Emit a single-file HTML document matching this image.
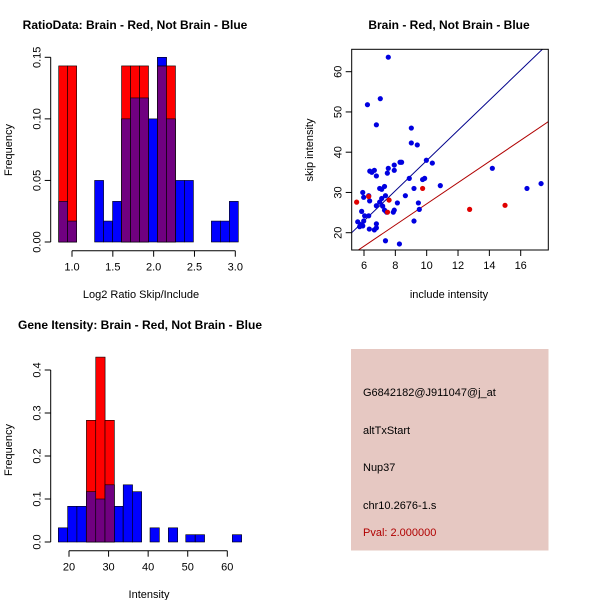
<!DOCTYPE html>
<html><head><meta charset="utf-8"><style>
body{margin:0;background:#fff}
svg{display:block;font-family:"Liberation Sans",sans-serif}
</style></head><body>
<svg id="s" width="600" height="600" xmlns="http://www.w3.org/2000/svg">
<rect width="600" height="600" fill="#fff"/>
<g id="p1"></g>
<g id="p2"></g>
<g id="p3"></g>
<g>
<rect x="351" y="349" width="197.5" height="201.5" fill="#e6c8c2"/>
<text x="363" y="396" font-size="11" fill="#000">G6842182@J911047@j_at</text>
<text x="363" y="434" font-size="11" fill="#000">altTxStart</text>
<text x="363" y="471" font-size="11" fill="#000">Nup37</text>
<text x="363" y="509" font-size="11" fill="#000">chr10.2676-1.s</text>
<text x="363" y="536" font-size="11" fill="#b00000">Pval: 2.000000</text>
</g>
</svg>
<script>
// Ratio histogram data
const ratioBinStart = 0.837, ratioBinWidth = 0.11;
const ratioBlue = [0.033,0.017,0,0,0.05,0.017,0.033,0.10,0.117,0.117,0.10,0.15,0.10,0.05,0.05,0,0,0.017,0.017,0.033];
const ratioRed  = [0.143,0.143,0,0,0,0,0,0.143,0.143,0.143,0,0.143,0.143,0,0,0,0,0,0,0];
const ratioXTicks = [1.0,1.5,2.0,2.5,3.0];
const ratioXTickLabels = ["1.0","1.5","2.0","2.5","3.0"];
const ratioYTicks = [0,0.05,0.10,0.15];
const ratioYTickLabels = ["0.00","0.05","0.10","0.15"];
// Scatter data
const blueX = [7.55,6.22,7.04,6.79,9.02,9.02,9.40,9.98,10.36,8.3,8.4,6.37,6.66,6.5,7.55,7.49,6.79,7.93,7.93,8.89,9.74,9.87,10.87,9.19,7.31,7.0,7.13,5.92,5.98,6.3,7.37,7.13,8.64,6.36,7.0,6.79,8.13,9.47,7.19,7.31,7.44,7.93,7.87,9.53,5.85,6.04,6.3,5.98,5.6,5.79,5.92,5.72,6.79,6.79,6.34,6.66,9.19,7.37,8.26,14.19,16.4,17.3];
const blueY = [63.6,51.8,53.3,46.8,46.0,42.3,41.8,38.0,37.3,37.5,37.5,35.3,35.5,35.0,36.0,34.8,34.1,36.8,35.5,33.5,33.2,33.5,31.7,31.0,31.5,31.0,30.8,30.0,28.8,29.2,29.2,28.5,29.2,27.9,27.6,26.7,27.4,27.4,26.6,25.6,25.1,25.6,25.1,25.8,25.3,24.2,24.2,22.9,22.7,22.0,21.7,21.5,22.2,21.2,20.9,20.7,22.9,18.0,17.2,36.0,31.0,32.2];
const redX = [5.53,7.6,9.74,12.74,15.0,6.3,7.5];
const redY = [27.6,28.1,31.0,25.8,26.8,29.0,25.1];
const blueLine = [3.745,0.47]; // slope, intercept
const redLine = [2.63,0.87];
const scXTicks = [6,8,10,12,14,16];
const scYTicks = [20,30,40,50,60];
// Gene intensity histogram
const geneBlueStart = [17.3,19.66,22.0,24.4,26.76,29.1,31.3,33.7,36.0,40.47,45.1,49.5,51.9,61.27];
const geneBlue = [0.033,0.083,0.083,0.117,0.10,0.133,0.083,0.133,0.117,0.033,0.033,0.017,0.017,0.017];
const geneRedStart = [24.4,26.76,29.1];
const geneRed = [0.283,0.43,0.283];
const geneBinWidth = 2.36;
const geneXTicks = [20,30,40,50,60];
const geneYTicks = [0,0.1,0.2,0.3,0.4];
const geneYTickLabels = ["0.0","0.1","0.2","0.3","0.4"];

const NS="http://www.w3.org/2000/svg";
function mk(par,tag,at,txt){const e=document.createElementNS(NS,tag);for(const k in at)e.setAttribute(k,at[k]);if(txt!==undefined)e.textContent=txt;par.appendChild(e);return e;}
function lin(d0,d1,p0,p1){return v=>p0+(v-d0)*(p1-p0)/(d1-d0);}

function axes(g,xs,ys,xt,xl,yt,yl,xAxY,yAxX,xr,yr){
  // x axis
  let a=mk(g,'line',{x1:xs(xt[0]),x2:xs(xt[xt.length-1]),y1:xAxY,y2:xAxY,stroke:'#000'});
  
  xt.forEach((v,i)=>{
    const t=mk(g,'line',{x1:xs(v),x2:xs(v),y1:xAxY,y2:xAxY+6,stroke:'#000'});
    
    const l=mk(g,'text',{x:xs(v),y:xAxY+20,'font-size':11,'text-anchor':'middle'},xl[i]);
    
  });
  a=mk(g,'line',{x1:yAxX,x2:yAxX,y1:ys(yt[0]),y2:ys(yt[yt.length-1]),stroke:'#000'});
  
  yt.forEach((v,i)=>{
    const t=mk(g,'line',{x1:yAxX-6,x2:yAxX,y1:ys(v),y2:ys(v),stroke:'#000'});
    
    const l=mk(g,'text',{x:0,y:0,'font-size':11,'text-anchor':'middle',transform:`translate(${yAxX-10},${ys(v)}) rotate(-90)`},yl[i]);
    
  });
}
function hist(g,xs,ys,starts,w,blue,red){
  blue.forEach((b,i)=>{
    if(b<=0)return;
    const r=mk(g,'rect',{x:xs(starts[i]),y:ys(b),width:xs(starts[i]+w)-xs(starts[i]),height:ys(0)-ys(b),fill:'#0000ff',stroke:'#000','stroke-width':0.6});
    
  });
  red.forEach((rv,i)=>{
    if(rv<=0)return;
    const x0=xs(starts[i]),ww=xs(starts[i]+w)-x0;
    const r=mk(g,'rect',{x:x0,y:ys(rv),width:ww,height:ys(0)-ys(rv),fill:'#ff0000',stroke:'#000','stroke-width':0.6});
    
    const m=Math.min(rv,blue[i]);
    if(m>0){
      const p=mk(g,'rect',{x:x0,y:ys(m),width:ww,height:ys(0)-ys(m),fill:'#700080',stroke:'#000','stroke-width':0.6});
      
    }
    if(blue[i]>rv){
      const b=mk(g,'rect',{x:x0,y:ys(blue[i]),width:ww,height:ys(rv)-ys(blue[i]),fill:'#0000ff',stroke:'#000','stroke-width':0.6});
      
    }
  });
}
function label(g,txt,x,y,opts,name){
  const t=mk(g,'text',Object.assign({x:x,y:y,'font-size':11,'text-anchor':'middle'},opts),txt);
  
}

// Panel 1
(function(){
  const g=document.getElementById('p1');
  const xs=lin(1,3,72,235.3), ys=lin(0,0.15,242,57.3);
  const starts=ratioBlue.map((_,i)=>ratioBinStart+i*ratioBinWidth);
  hist(g,xs,ys,starts,ratioBinWidth,ratioBlue,ratioRed);
  axes(g,xs,ys,ratioXTicks,ratioXTickLabels,ratioYTicks,ratioYTickLabels,250.7,50.7);
  label(g,'RatioData: Brain - Red, Not Brain - Blue',135,29,{'font-weight':'bold','font-size':12},'chart-title');
  label(g,'Log2 Ratio Skip/Include',141,298,{},'x-axis-title');
  label(g,'Frequency',0,0,{transform:'translate(12,150) rotate(-90)'},'y-axis-title');
})();
// Panel 2
(function(){
  const g=document.getElementById('p2');
  const xs=lin(6,16,364,520.7), ys=lin(20,60,232.7,71.7);
  const X0=351.7,X1=548.3,Y0=49.3,Y1=250;
  const cp=mk(g,'clipPath',{id:'clipS'});mk(cp,'rect',{x:X0,y:Y0,width:X1-X0,height:Y1-Y0});
  const dx0=5.215,dx1=17.76;
  [[blueLine,'#00008b','blue-fit-line'],[redLine,'#b00000','red-fit-line']].forEach(([L,c,n])=>{
    const l=mk(g,'line',{x1:xs(dx0),y1:ys(L[0]*dx0+L[1]),x2:xs(dx1),y2:ys(L[0]*dx1+L[1]),stroke:c,'stroke-width':1,'clip-path':'url(#clipS)'});
    
  });
  blueX.forEach((x,i)=>{const c=mk(g,'circle',{cx:xs(x),cy:ys(blueY[i]),r:2.6,fill:'#0000e0'});
    });
  redX.forEach((x,i)=>{const c=mk(g,'circle',{cx:xs(x),cy:ys(redY[i]),r:2.6,fill:'#e00000'});
    });
  const b=mk(g,'rect',{x:X0,y:Y0,width:X1-X0,height:Y1-Y0,fill:'none',stroke:'#000'});
  
  scXTicks.forEach(v=>{const t=mk(g,'line',{x1:xs(v),x2:xs(v),y1:Y1,y2:Y1+6,stroke:'#000'});
    
    label(g,String(v),xs(v),Y1+19,{},'x-tick-label');});
  scYTicks.forEach(v=>{const t=mk(g,'line',{x1:X0-6,x2:X0,y1:ys(v),y2:ys(v),stroke:'#000'});
    
    label(g,String(v),0,0,{transform:`translate(${X0-10},${ys(v)}) rotate(-90)`},'y-tick-label');});
  label(g,'Brain - Red, Not Brain - Blue',449,29,{'font-weight':'bold','font-size':12},'chart-title');
  label(g,'include intensity',449,298,{},'x-axis-title');
  label(g,'skip intensity',0,0,{transform:'translate(313,150) rotate(-90)'},'y-axis-title');
})();
// Panel 3
(function(){
  const g=document.getElementById('p3');
  const xs=lin(20,60,69,227.3), ys=lin(0,0.4,542,370);
  const redFull=geneBlueStart.map(s=>{const k=geneRedStart.indexOf(s);return k>=0?geneRed[k]:0;});
  hist(g,xs,ys,geneBlueStart,geneBinWidth,geneBlue,redFull);
  axes(g,xs,ys,geneXTicks,geneXTicks.map(String),geneYTicks,geneYTickLabels,550.7,50.7);
  label(g,'Gene Itensity: Brain - Red, Not Brain - Blue',140,329,{'font-weight':'bold','font-size':12},'chart-title');
  label(g,'Intensity',149,598,{},'x-axis-title');
  label(g,'Frequency',0,0,{transform:'translate(12,450) rotate(-90)'},'y-axis-title');
})();
</script>
</body></html>
